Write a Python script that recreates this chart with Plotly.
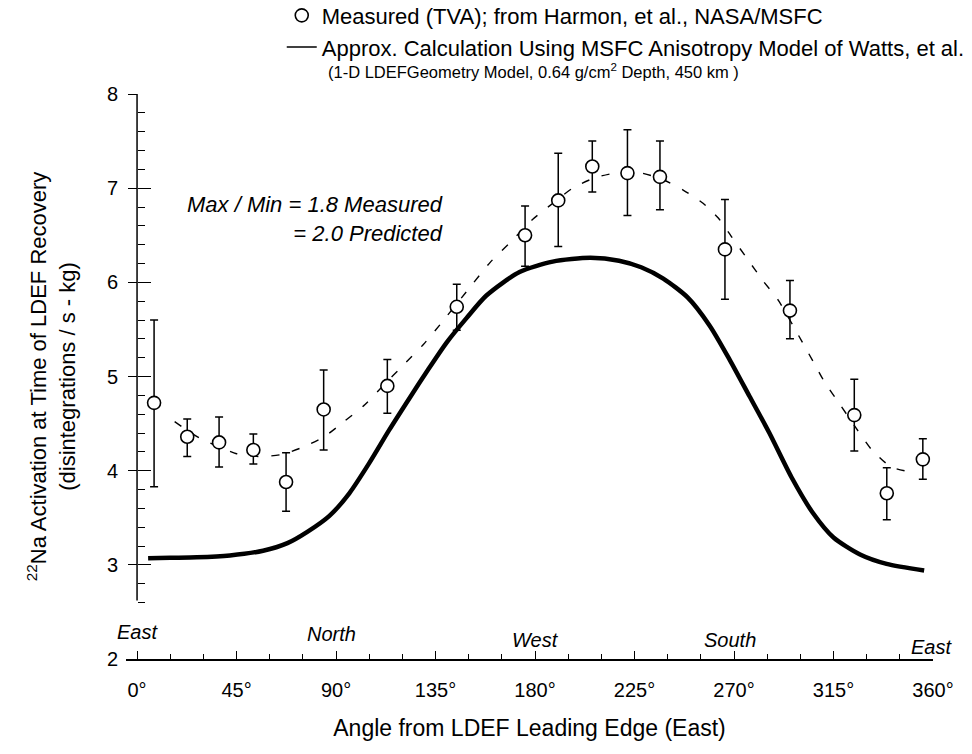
import plotly.graph_objects as go

# ---------------- data ----------------
meas_angle = [7.7, 22.7, 37.1, 52.6, 67.4, 84.4, 113.2, 144.6, 175.5, 190.5,
              205.9, 221.8, 236.5, 265.9, 295.3, 324.4, 339.1, 355.4]
meas_value = [4.72, 4.36, 4.30, 4.22, 3.88, 4.65, 4.90, 5.74, 6.50, 6.87,
              7.23, 7.16, 7.12, 6.35, 5.70, 4.59, 3.76, 4.12]
meas_high = [5.60, 4.55, 4.57, 4.39, 4.19, 5.07, 5.18, 5.98, 6.81, 7.37,
             7.50, 7.62, 7.50, 6.88, 6.02, 4.97, 4.03, 4.34]
meas_low = [3.83, 4.15, 4.04, 4.07, 3.57, 4.22, 4.61, 5.49, 6.17, 6.38,
            6.96, 6.71, 6.77, 5.82, 5.40, 4.21, 3.48, 3.91]

fit_angle = [17, 28, 45, 56, 65, 74, 84, 93, 103, 112, 120, 129.5, 137, 151,
             160, 169, 179, 187, 197, 207, 216, 226, 237, 247, 256, 263, 269,
             276, 283, 290, 301, 306, 311, 318, 325, 332, 341, 351]
fit_value = [4.52, 4.35, 4.18, 4.15, 4.17, 4.24, 4.35, 4.51, 4.70, 4.92, 5.11,
             5.34, 5.55, 5.96, 6.22, 6.43, 6.67, 6.82, 7.00, 7.11, 7.16, 7.17,
             7.10, 6.98, 6.84, 6.68, 6.48, 6.25, 6.02, 5.81, 5.36, 5.15, 4.94,
             4.70, 4.46, 4.23, 4.04, 3.98]

calc_angle = [5, 15, 27, 42, 57, 68, 77, 87, 96, 105, 114, 123.5, 131, 140,
              149, 158, 173, 188, 205, 218, 228, 238, 249, 259, 268, 277, 286,
              296, 305.7, 315, 327, 339, 356]
calc_value = [3.07, 3.075, 3.08, 3.10, 3.15, 3.23, 3.35, 3.52, 3.76, 4.08,
              4.43, 4.78, 5.05, 5.36, 5.62, 5.86, 6.11, 6.22, 6.26, 6.23, 6.16,
              6.04, 5.84, 5.54, 5.18, 4.79, 4.40, 3.93, 3.55, 3.29, 3.11, 3.01,
              2.94]

x_ticks = [0, 45, 90, 135, 180, 225, 270, 315, 360]
x_ticktext = ["0°", "45°", "90°", "135°", "180°", "225°", "270°", "315°", "360°"]
y_ticks = [2, 3, 4, 5, 6, 7, 8]

directions = ["East", "North", "West", "South", "East"]
dir_angle = [0, 88, 180, 268, 359.5]
dir_level = [2.29, 2.27, 2.20, 2.20, 2.13]

FONT = "Liberation Sans, Arial, Helvetica, sans-serif"

err_plus = [h - v for h, v in zip(meas_high, meas_value)]
err_minus = [v - l for v, l in zip(meas_value, meas_low)]

fig = go.Figure()

fig.add_trace(go.Scatter(
    x=calc_angle, y=calc_value, mode="lines",
    line=dict(color="black", width=4.5, shape="spline", smoothing=0.7),
    name="Approx. Calculation Using MSFC Anisotropy Model of Watts, et al.",
    showlegend=False, legendgroup="calc",
))
fig.add_trace(go.Scatter(
    x=fit_angle, y=fit_value, mode="lines",
    line=dict(color="black", width=1.4, dash="8px,13px", shape="spline", smoothing=0.6),
    showlegend=False, hoverinfo="skip",
))
fig.add_trace(go.Scatter(
    x=meas_angle, y=meas_value, mode="markers",
    marker=dict(symbol="circle", size=13, color="white",
                line=dict(color="black", width=1.6)),
    error_y=dict(type="data", symmetric=False, array=err_plus,
                 arrayminus=err_minus, color="black", thickness=1.5, width=4),
    name="Measured (TVA); from Harmon, et al., NASA/MSFC",
    legendrank=1,
))
# legend entry for the calculation (thin line sample as in the original)
fig.add_trace(go.Scatter(
    x=[None], y=[None], mode="lines", line=dict(color="black", width=1.5),
    name="Approx. Calculation Using MSFC Anisotropy Model of Watts, et al.",
    legendrank=2, legendgroup="calc", hoverinfo="skip",
))
# helper trace so the overlaying axis (crossing major ticks) is drawn
fig.add_trace(go.Scatter(x=[None], y=[None], yaxis="y2", showlegend=False,
                         hoverinfo="skip"))

x_pos0 = 5 / 365.0  # paper position of 0 degrees

minor_y = [round(2.6 + 0.2 * i, 1) for i in range(28)]
minor_y = [v for v in minor_y if abs(v - round(v)) > 1e-6]

fig.update_layout(
    width=972, height=754,
    margin=dict(l=126, r=39, t=94, b=95, autoexpand=False),
    paper_bgcolor="white", plot_bgcolor="white",
    font=dict(family=FONT, color="black", size=20),
    showlegend=True,
    legend=dict(x=0.193, y=1.176, xanchor="left", yanchor="top",
                font=dict(size=22, family=FONT), itemwidth=30,
                bgcolor="rgba(0,0,0,0)", borderwidth=0, tracegroupgap=0),
    xaxis=dict(
        range=[-5, 360], showgrid=False, zeroline=False,
        showline=True, linecolor="black", linewidth=1.5,
        tickmode="array", tickvals=x_ticks, ticktext=x_ticktext,
        ticks="inside", ticklen=8, tickwidth=1.3, tickcolor="black",
        ticklabelstandoff=12,
        tickfont=dict(size=20, family=FONT),
        minor=dict(tickmode="array", tickvals=list(range(15, 360, 15)),
                   ticks="inside", ticklen=5, tickwidth=1.1, tickcolor="black"),
        title=dict(text="Angle from LDEF Leading Edge (East)",
                   font=dict(size=23, family=FONT), standoff=20),
        anchor="y",
    ),
    yaxis=dict(
        range=[2, 8], showgrid=False, zeroline=False, showline=False,
        anchor="free", position=x_pos0,
        tickmode="array", tickvals=y_ticks,
        ticks="outside", ticklen=9, tickwidth=1.4, tickcolor="black",
        ticklabelstandoff=6,
        tickfont=dict(size=20, family=FONT),
        minor=dict(tickmode="array", tickvals=minor_y, ticks="inside",
                   ticklen=7, tickwidth=1.1, tickcolor="black"),
        title=dict(text="<sup>22</sup>Na Activation at Time of LDEF Recovery<br>(disintegrations / s - kg)",
                   font=dict(size=22, family=FONT), standoff=24),
    ),
    yaxis2=dict(
        range=[2, 8], overlaying="y", anchor="free", position=x_pos0,
        showgrid=False, zeroline=False, showline=False,
        tickmode="array", tickvals=y_ticks[1:], ticks="inside",
        ticklen=13, tickwidth=1.4, tickcolor="black", showticklabels=False,
    ),
)

# y axis line (stops short of the x axis as in the original)
fig.add_shape(type="line", xref="x", yref="y", x0=0, x1=0, y0=2.62, y1=8,
              line=dict(color="black", width=1.5))

for name, a, lv in zip(directions, dir_angle, dir_level):
    fig.add_annotation(x=a, y=lv, xref="x", yref="y", text=f"<i>{name}</i>",
                       showarrow=False, font=dict(size=20, family=FONT),
                       xanchor="center", yanchor="middle")

fig.add_annotation(x=139.5, y=6.67, xref="x", yref="y",
                   text="<i>Max / Min = 1.8 Measured<br>= 2.0 Predicted</i>",
                   showarrow=False, align="right",
                   xanchor="right", yanchor="middle",
                   font=dict(size=22, family=FONT))

fig.add_annotation(x=(326 - 126) / 807.0, y=(658.6 - 71) / 564.6,
                   xref="paper", yref="paper",
                   text="(1-D LDEFGeometry Model, 0.64 g/cm<sup>2</sup> Depth, 450 km )",
                   showarrow=False, xanchor="left", yanchor="middle",
                   font=dict(size=16.5, family=FONT))

fig.write_html("out.html")
